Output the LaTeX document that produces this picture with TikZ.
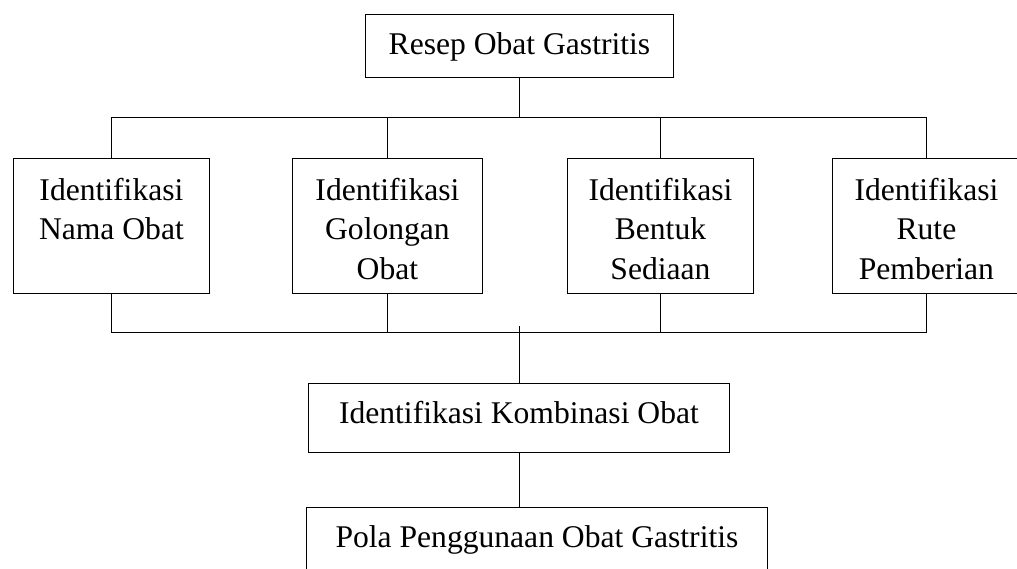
\documentclass[tikz,border=0pt]{standalone}
\usepackage{fontspec}
\setmainfont{Liberation Serif}
\tikzset{
  box/.style={draw, line width=0.9pt, inner sep=0pt, font=\fontsize{31.6}{39.5}\selectfont},
  link/.style={line width=0.9pt}
}
\newcommand{\boxtext}[4]{\parbox[c][#2pt][t]{#1pt}{\centering\rule{0pt}{#3pt}#4}}
\begin{document}
\begin{tikzpicture}[x=1pt,y=-1pt]
\useasboundingbox (0,0) rectangle (1017,569);
\clip (0,0) rectangle (1017,569);
\node[box, anchor=north west] (top) at (365,14) {\boxtext{308}{63}{40}{Resep Obat Gastritis}};
\node[box, anchor=north west] (b1) at (13,158.5) {\boxtext{196}{134.5}{41.5}{Identifikasi\\Nama Obat}};
\node[box, anchor=north west] (b2) at (292,158.5) {\boxtext{190}{134.5}{41.5}{Identifikasi\\Golongan\\Obat}};
\node[box, anchor=north west] (b3) at (567,158.5) {\boxtext{186}{134.5}{41.5}{Identifikasi\\Bentuk\\Sediaan}};
\node[box, anchor=north west] (b4) at (832,158.5) {\boxtext{188}{134.5}{41.5}{Identifikasi\\Rute\\Pemberian}};
\node[box, anchor=north west] (komb) at (308,383) {\boxtext{421}{69}{40}{Identifikasi Kombinasi Obat}};
\node[box, anchor=north west] (pola) at (306,507) {\boxtext{461}{80}{40}{Pola Penggunaan Obat Gastritis}};
\coordinate (bar1) at (0,117);
\coordinate (bar2) at (0,332.5);
\coordinate (kt) at (519.5,326);
% upper tree
\draw[link] (top.south) -- (top.south |- bar1);
\draw[link] (b1.north |- bar1) -- (b4.north |- bar1);
\draw[link] (b1.north) -- (b1.north |- bar1);
\draw[link] (b2.north) -- (b2.north |- bar1);
\draw[link] (b3.north) -- (b3.north |- bar1);
\draw[link] (b4.north) -- (b4.north |- bar1);
% lower tree
\draw[link] (b1.south |- bar2) -- (b4.south |- bar2);
\draw[link] (b1.south) -- (b1.south |- bar2);
\draw[link] (b2.south) -- (b2.south |- bar2);
\draw[link] (b3.south) -- (b3.south |- bar2);
\draw[link] (b4.south) -- (b4.south |- bar2);
\draw[link] (komb.north -| kt) -- (kt);
\draw[link] (komb.south) -- (pola.north -| komb.south);
\end{tikzpicture}
\end{document}
